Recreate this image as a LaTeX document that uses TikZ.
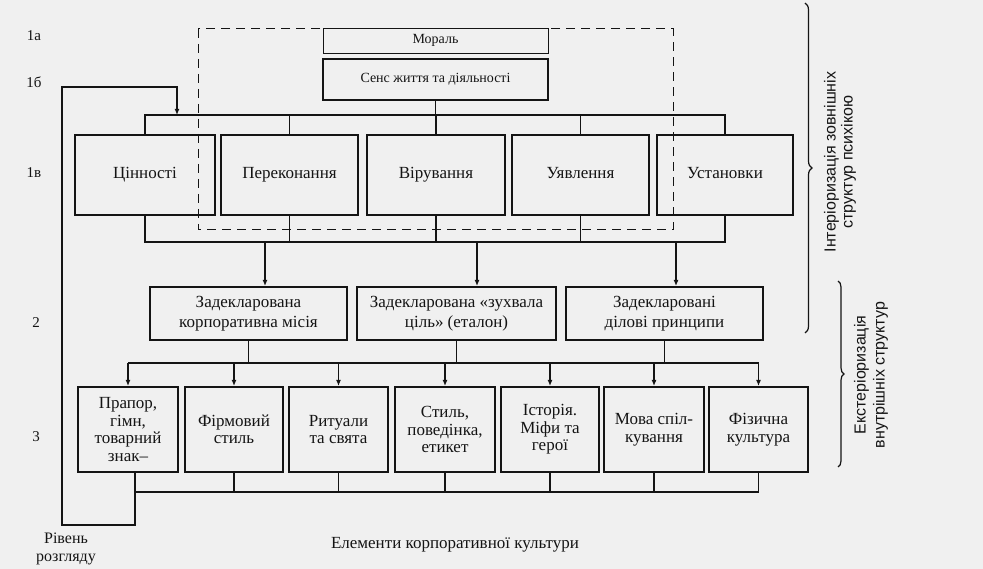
\documentclass[tikz,border=0pt]{standalone}
\usepackage{fontspec}
\setmainfont{Liberation Serif}
\newfontfamily\rotfont{Liberation Sans}
\usetikzlibrary{arrows.meta,decorations.pathreplacing}
\definecolor{bg}{RGB}{240,240,240}
\definecolor{ink}{RGB}{20,20,20}
\begin{document}
\begin{tikzpicture}[x=1pt,y=-1pt, line width=1.2pt, color=ink,
  box/.style={draw=ink, line width=2pt, inner sep=0pt, align=center, text=ink,
              font=\fontsize{17}{17.5}\selectfont},
  thinbox/.style={box, line width=0.8pt, font=\fontsize{14}{16}\selectfont, text height=10pt, text depth=3pt},
  smallbox/.style={box, font=\fontsize{14}{16}\selectfont, text height=10pt, text depth=3pt},
  vbox/.style={box, minimum height=80pt, text height=12pt, text depth=4pt},
  mbox/.style={box, minimum height=53pt, font=\fontsize{17}{19.5}\selectfont},
  ebox/.style={box, minimum height=85pt},
  lvl/.style={text=ink, font=\fontsize{15}{17}\selectfont},
  arr/.style={-{Latex[length=6pt,width=5pt]}},
  dashline/.style={line width=1pt, dash pattern=on 9pt off 6pt},
  rot/.style={rotate=90, align=center, text=ink, font=\rotfont\fontsize{16}{17}\selectfont},
  bracestyle/.style={decorate, line width=1.2pt}
]
\useasboundingbox (0,0) rectangle (983,569);
\fill[bg] (0,0) rectangle (983,569);

% level 1a / 1b
\node[thinbox, minimum width=225pt, minimum height=25pt] (moral) at (435.5,40.5) {Мораль};
\node[smallbox, minimum width=225pt, minimum height=41pt] (sens) at (435.5,79.5) {Сенс життя та діяльності};

% level 1c
\node[vbox, minimum width=140pt] (v1) at (145,175) {Цінності};
\node[vbox, minimum width=137pt] (v2) at (289.5,175) {Переконання};
\node[vbox, minimum width=138pt] (v3) at (436,175) {Вірування};
\node[vbox, minimum width=137pt] (v4) at (580.5,175) {Уявлення};
\node[vbox, minimum width=136pt] (v5) at (725,175) {Установки};

% level 2
\node[mbox, minimum width=197pt] (m1) at (248.5,313.5) {Задекларована\\корпоративна місія};
\node[mbox, minimum width=199pt] (m2) at (456.5,313.5) {Задекларована «зухвала\\ціль» (еталон)};
\node[mbox, minimum width=197pt] (m3) at (664.5,313.5) {Задекларовані\\ділові принципи};

% level 3
\node[ebox, minimum width=100pt] (e1) at (128,429.5) {Прапор,\\гімн,\\товарний\\знак–};
\node[ebox, minimum width=98pt] (e2) at (234,429.5) {Фірмовий\\стиль};
\node[ebox, minimum width=99pt] (e3) at (338.5,429.5) {Ритуали\\та свята};
\node[ebox, minimum width=100pt] (e4) at (445,429.5) {Стиль,\\поведінка,\\етикет};
\node[ebox, minimum width=98pt] (e5) at (550,429.5) {Історія.\\Міфи та\\герої};
\node[ebox, minimum width=100pt] (e6) at (654,429.5) {Мова спіл-\\кування};
\node[ebox, minimum width=99pt] (e7) at (758.5,429.5) {Фізична\\культура};

% dashed frame
\draw[dashline] (198,29) rectangle (673,230);

% bus levels
\coordinate (t) at (0,115);
\coordinate (b) at (0,242);
\coordinate (c) at (0,363);
\coordinate (d) at (0,492);

% top bus
\draw (v1.north) |- (v5.north |- t) -- (v5.north);
\foreach \n in {v2,v3,v4} \draw (\n.north) -- (\n.north |- t);
\draw (sens.south) -- (sens.south |- t);

% bottom bus of level 1c
\draw (v1.south) |- (v5.south |- b) -- (v5.south);
\foreach \n in {v2,v3,v4} \draw (\n.south) -- (\n.south |- b);

% arrows to level 2
\coordinate (m1in) at ([xshift=16.5pt]m1.north);
\coordinate (m2in) at ([xshift=20.5pt]m2.north);
\coordinate (m3in) at ([xshift=11.5pt]m3.north);
\foreach \n in {m1in,m2in,m3in} \draw[arr] (\n |- b) -- (\n);

% level 2 to level 3
\foreach \n in {m1,m2,m3} \draw (\n.south) -- (\n.south |- c);
\draw (e1.north |- c) -- (e7.north |- c);
\foreach \n in {e1,e2,e3,e4,e5,e6,e7} \draw[arr] (\n.north |- c) -- (\n.north);

% level 3 bottom bus and feedback
\coordinate (e1out) at ([xshift=7pt]e1.south);
\draw (e1out |- d) -- (e7.south |- d);
\foreach \n in {e2,e3,e4,e5,e6,e7} \draw (\n.south) -- (\n.south |- d);
\coordinate (fbl) at (62,525);
\coordinate (fbt) at (177,87);
\draw[arr] (e1out) |- (fbl) |- (fbt) -- (fbt |- t);

% braces
\coordinate (br1a) at (805,3);
\coordinate (br1b) at (805,333);
\coordinate (br2a) at (838,281);
\coordinate (br2b) at (838,467);
\draw[bracestyle, decoration={brace, amplitude=7pt}] (br1a) -- (br1b);
\draw[bracestyle, decoration={brace, amplitude=6pt}] (br2a) -- (br2b);
\node[rot] (intl) at (840,162) {Інтеріоризація зовнішніх\\структур психікою};
\node[rot, font=\rotfont\fontsize{16}{19}\selectfont] (extl) at (871,375) {Екстеріоризація\\внутрішніх структур};

% level labels
\node[lvl] (l1a) at (34,36) {1а};
\node[lvl] (l1b) at (34,82) {1б};
\node[lvl] (l1c) at (34,173) {1в};
\node[lvl] (l2) at (36,323) {2};
\node[lvl] (l3) at (36,437) {3};
\node[align=center, text=ink, font=\fontsize{16}{18}\selectfont] (lvlname) at (66,549) {Рівень\\розгляду};
\node[text=ink, font=\fontsize{17}{18}\selectfont] (elname) at (455,545) {Елементи корпоративної культури};
\end{tikzpicture}
\end{document}
